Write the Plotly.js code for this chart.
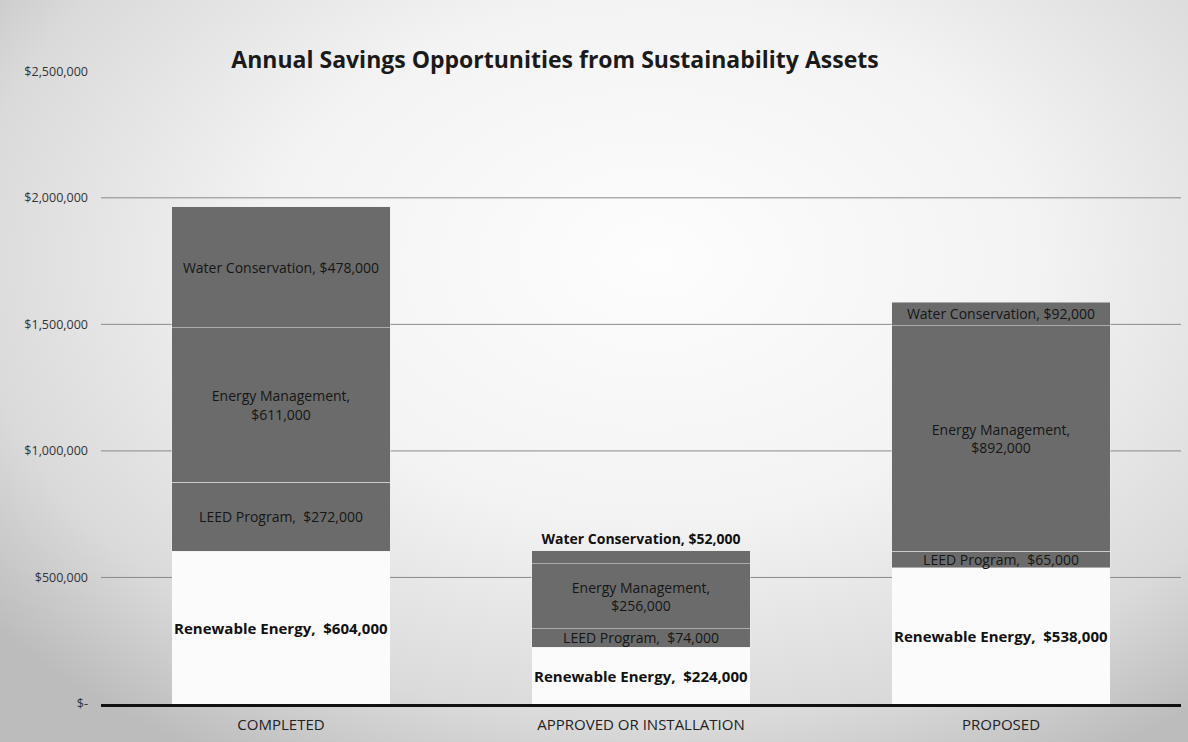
<!DOCTYPE html>
<html>
<head>
<meta charset="utf-8">
<script src="https://cdn.plot.ly/plotly-3.0.1.min.js"></script>
<style>
  html, body { margin:0; padding:0; }
  body {
    width:1188px; height:742px; overflow:hidden;
    background: radial-gradient(ellipse 72% 78% at 55% 35%, #fdfdfd 0%, #f3f3f3 45%, #dadada 80%, #bcbcbc 100%);
  }
  #chart { width:1188px; height:742px; }
</style>
</head>
<body>
<div id="chart"></div>
<script>
// ---- data ----
const categories = ["COMPLETED", "APPROVED OR INSTALLATION", "PROPOSED"];
const renewableEnergy = [604000, 224000, 538000];
const leedProgram = [272000, 74000, 65000];
const energyManagement = [611000, 256000, 892000];
const waterConservation = [478000, 52000, 92000];
const tickValues = [0, 500000, 1000000, 1500000, 2000000, 2500000];
const tickLabels = ["$-", "$500,000", "$1,000,000", "$1,500,000", "$2,000,000", "$2,500,000"];
const gridValues = [500000, 1000000, 1500000, 2000000];

const fmt = v => "$" + v.toLocaleString("en-US");
const FONT = "Open Sans, Noto Sans, sans-serif";

const gray = "#6b6b6b";
const segLine = {color: "rgba(235,235,235,0.5)", width: 1};

const traces = [
  {
    name: "Renewable Energy", type: "bar", x: categories, y: renewableEnergy,
    marker: {color: "#fbfbfb", line: {color: "rgba(255,255,255,0)", width: 0}},
    text: renewableEnergy.map(v => "<b>Renewable Energy,  " + fmt(v) + "</b>"),
    textposition: "inside", insidetextanchor: "middle", textangle: 0, constraintext: "none",
    textfont: {family: FONT, size: 15, color: "#111"}, hoverinfo: "skip"
  },
  {
    name: "LEED Program", type: "bar", x: categories, y: leedProgram,
    marker: {color: gray, line: segLine},
    text: leedProgram.map(v => "LEED Program,  " + fmt(v)),
    textposition: "inside", insidetextanchor: "middle", textangle: 0, constraintext: "none",
    textfont: {family: FONT, size: 14, color: "#161616"}, hoverinfo: "skip"
  },
  {
    name: "Energy Management", type: "bar", x: categories, y: energyManagement,
    marker: {color: gray, line: segLine},
    text: energyManagement.map(v => "Energy Management,<br>" + fmt(v)),
    textposition: "inside", insidetextanchor: "middle", textangle: 0, constraintext: "none",
    textfont: {family: FONT, size: 14, color: "#161616"}, hoverinfo: "skip"
  },
  {
    name: "Water Conservation", type: "bar", x: categories, y: waterConservation,
    marker: {color: gray, line: segLine},
    text: waterConservation.map(v => "Water Conservation, " + fmt(v)),
    textposition: ["inside", "outside", "inside"], insidetextanchor: "middle", textangle: 0, constraintext: "none",
    cliponaxis: false,
    insidetextfont: {family: FONT, size: 14, color: "#161616"},
    outsidetextfont: {family: FONT, size: 14, color: "#111", weight: "bold"},
    hoverinfo: "skip"
  }
];

const shapes = gridValues.map(v => ({
  type: "line", xref: "paper", x0: 0, x1: 1, yref: "y", y0: v, y1: v,
  line: {color: "#8a8a8a", width: 1}, layer: "below"
}));

const layout = {
  width: 1188, height: 742,
  barmode: "stack",
  bargap: 0.394,
  showlegend: false,
  paper_bgcolor: "rgba(0,0,0,0)",
  plot_bgcolor: "rgba(0,0,0,0)",
  margin: {l: 101, r: 7, t: 8, b: 38},
  font: {family: FONT, color: "#222"},
  shapes: shapes,
  title: {
    text: "<b>Annual Savings Opportunities from Sustainability Assets</b>",
    x: 555/1188, xref: "container", xanchor: "center",
    y: 1 - 60/742, yref: "container", yanchor: "middle",
    font: {family: FONT, size: 23, color: "#1a1a1a"}
  },
  xaxis: {
    type: "category",
    showgrid: false,
    showline: true, linecolor: "#111", linewidth: 2.5,
    ticks: "", ticklabelstandoff: 5,
    tickfont: {family: FONT, size: 15, color: "#222"}
  },
  yaxis: {
    range: [0, 2750000],
    tickvals: tickValues, ticktext: tickLabels,
    showgrid: false,
    zeroline: false, showline: false,
    ticks: "", ticklabelstandoff: 12,
    tickfont: {family: FONT, size: 12.5, color: "#333"}
  }
};

Plotly.newPlot("chart", traces, layout, {staticPlot: true, displayModeBar: false});
</script>
</body>
</html>
